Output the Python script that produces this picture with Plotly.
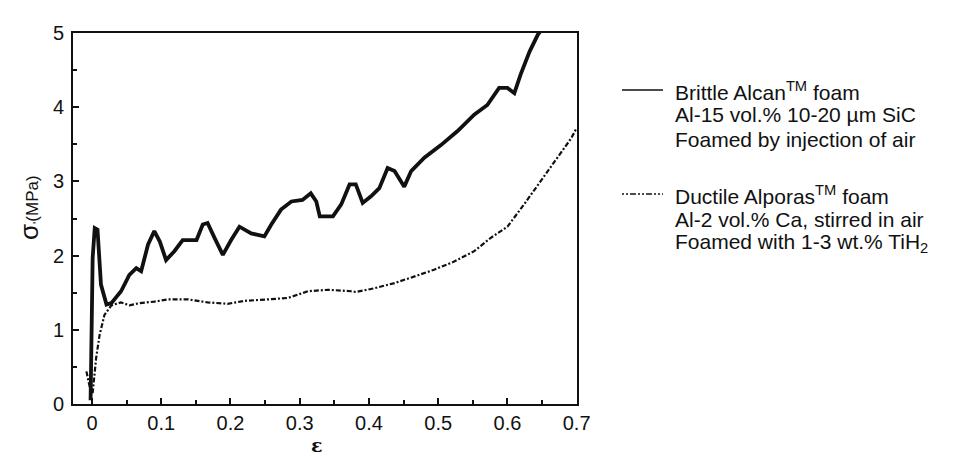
import plotly.graph_objects as go

# ---- data ----
alcan_strain = [-0.002, -0.001, 0.001, 0.004, 0.008, 0.013, 0.021, 0.028, 0.042, 0.054,
                0.064, 0.071, 0.081, 0.090, 0.098, 0.107, 0.119, 0.131, 0.151, 0.160,
                0.167, 0.177, 0.189, 0.201, 0.213, 0.230, 0.249, 0.259, 0.273, 0.288,
                0.304, 0.316, 0.324, 0.329, 0.348, 0.360, 0.372, 0.381, 0.391, 0.403,
                0.415, 0.427, 0.437, 0.451, 0.461, 0.480, 0.504, 0.528, 0.552, 0.571,
                0.588, 0.600, 0.610, 0.619, 0.632, 0.644, 0.651]
alcan_stress = [0.05, 1.00, 1.97, 2.37, 2.35, 1.61, 1.34, 1.36, 1.52, 1.74,
                1.83, 1.79, 2.15, 2.33, 2.19, 1.94, 2.06, 2.21, 2.21, 2.42,
                2.44, 2.24, 2.01, 2.21, 2.39, 2.30, 2.26, 2.42, 2.62, 2.73,
                2.75, 2.84, 2.73, 2.53, 2.53, 2.69, 2.96, 2.96, 2.71, 2.80,
                2.91, 3.18, 3.14, 2.93, 3.14, 3.32, 3.49, 3.68, 3.90, 4.03,
                4.26, 4.26, 4.19, 4.44, 4.75, 4.98, 5.07]

alporas_strain = [-0.008, -0.003, 0.001, 0.006, 0.011, 0.018, 0.028, 0.042, 0.054, 0.069,
                  0.090, 0.110, 0.139, 0.167, 0.196, 0.220, 0.254, 0.283, 0.312, 0.341,
                  0.374, 0.381, 0.408, 0.437, 0.466, 0.494, 0.523, 0.552, 0.576, 0.600,
                  0.624, 0.648, 0.672, 0.692, 0.700]
alporas_stress = [0.44, 0.22, 0.15, 0.62, 0.93, 1.20, 1.33, 1.37, 1.33, 1.36,
                  1.38, 1.41, 1.41, 1.37, 1.35, 1.39, 1.41, 1.43, 1.52, 1.54,
                  1.52, 1.51, 1.56, 1.63, 1.72, 1.81, 1.92, 2.06, 2.24, 2.39,
                  2.69, 3.00, 3.32, 3.58, 3.72]

legend_alcan = ["Brittle Alcan<sup>TM</sup> foam",
                "Al-15 vol.% 10-20 µm SiC",
                "Foamed by injection of air"]
legend_alporas = ["Ductile Alporas<sup>TM</sup> foam",
                  "Al-2 vol.% Ca, stirred in air",
                  "Foamed with 1-3 wt.% TiH<sub>2</sub>"]

W, H = 956, 456
L, R, T, B = 65, 387, 25, 60
PW, PH = W - L - R, H - T - B


def px_x(p):
    return (p - L) / PW


def px_y(p):
    return (H - B - p) / PH


FONT = "Liberation Sans, Arial, sans-serif"
INK = "#111111"
LEG_SIZE = 21
LEG_STEP = 24

fig = go.Figure()
fig.add_trace(go.Scatter(x=alcan_strain, y=alcan_stress, mode="lines",
                         line=dict(color=INK, width=3.8), showlegend=False))
fig.add_trace(go.Scatter(x=alporas_strain, y=alporas_stress, mode="lines",
                         line=dict(color=INK, width=2.2, dash="5px,2px,2px,2px"),
                         showlegend=False))

# legend samples
fig.add_shape(type="line", xref="paper", yref="paper",
              x0=px_x(614), x1=px_x(655), y0=px_y(82), y1=px_y(82),
              line=dict(color=INK, width=1.6))
fig.add_shape(type="line", xref="paper", yref="paper",
              x0=px_x(614), x1=px_x(655), y0=px_y(186), y1=px_y(186),
              line=dict(color=INK, width=1.6, dash="2px,2px,2px,2px,6px,2px"))

for i, t in enumerate(legend_alcan):
    fig.add_annotation(text=t, xref="paper", yref="paper", x=px_x(666),
                       y=px_y(83 + LEG_STEP * i),
                       xanchor="left", yanchor="middle", showarrow=False, borderpad=0,
                       font=dict(family=FONT, size=LEG_SIZE, color=INK))
for i, t in enumerate(legend_alporas):
    fig.add_annotation(text=t, xref="paper", yref="paper", x=px_x(666),
                       y=px_y(187 + LEG_STEP * i),
                       xanchor="left", yanchor="middle", showarrow=False, borderpad=0,
                       font=dict(family=FONT, size=LEG_SIZE, color=INK))

# y-axis title
fig.add_annotation(text='<span style="font-size:26px">σ</span><sub>\'</sub>(MPa)',
                   xref="paper", yref="paper", x=px_x(21), y=px_y(200),
                   xanchor="center", yanchor="middle", textangle=-90, showarrow=False,
                   font=dict(family=FONT, size=17, color=INK))
# x-axis title
fig.add_annotation(text="<b>ε</b>", xref="paper", yref="paper", x=px_x(309), y=px_y(437),
                   xanchor="center", yanchor="middle", showarrow=False, borderpad=0,
                   font=dict(family="DejaVu Serif, serif", size=19, color=INK))

axis_common = dict(showline=True, mirror=True, linecolor=INK, linewidth=2,
                   ticks="inside", ticklen=6, tickwidth=1.6, tickcolor=INK,
                   showgrid=False, zeroline=False,
                   tickfont=dict(family=FONT, size=20, color=INK))

fig.update_xaxes(range=[-0.0274, 0.7005], tick0=0, dtick=0.1,
                 minor=dict(dtick=0.05, ticks="inside", ticklen=4, tickwidth=1.6,
                            tickcolor=INK, showgrid=False),
                 **axis_common)
fig.update_yaxes(range=[0, 5.001], tick0=0, dtick=1, ticklabelstandoff=3,
                 minor=dict(dtick=0.5, ticks="inside", ticklen=4, tickwidth=1.6,
                            tickcolor=INK, showgrid=False),
                 **axis_common)

fig.update_layout(width=W, height=H, margin=dict(l=L, r=R, t=T, b=B),
                  plot_bgcolor="white", paper_bgcolor="white", showlegend=False)

fig.write_html("out.html")
